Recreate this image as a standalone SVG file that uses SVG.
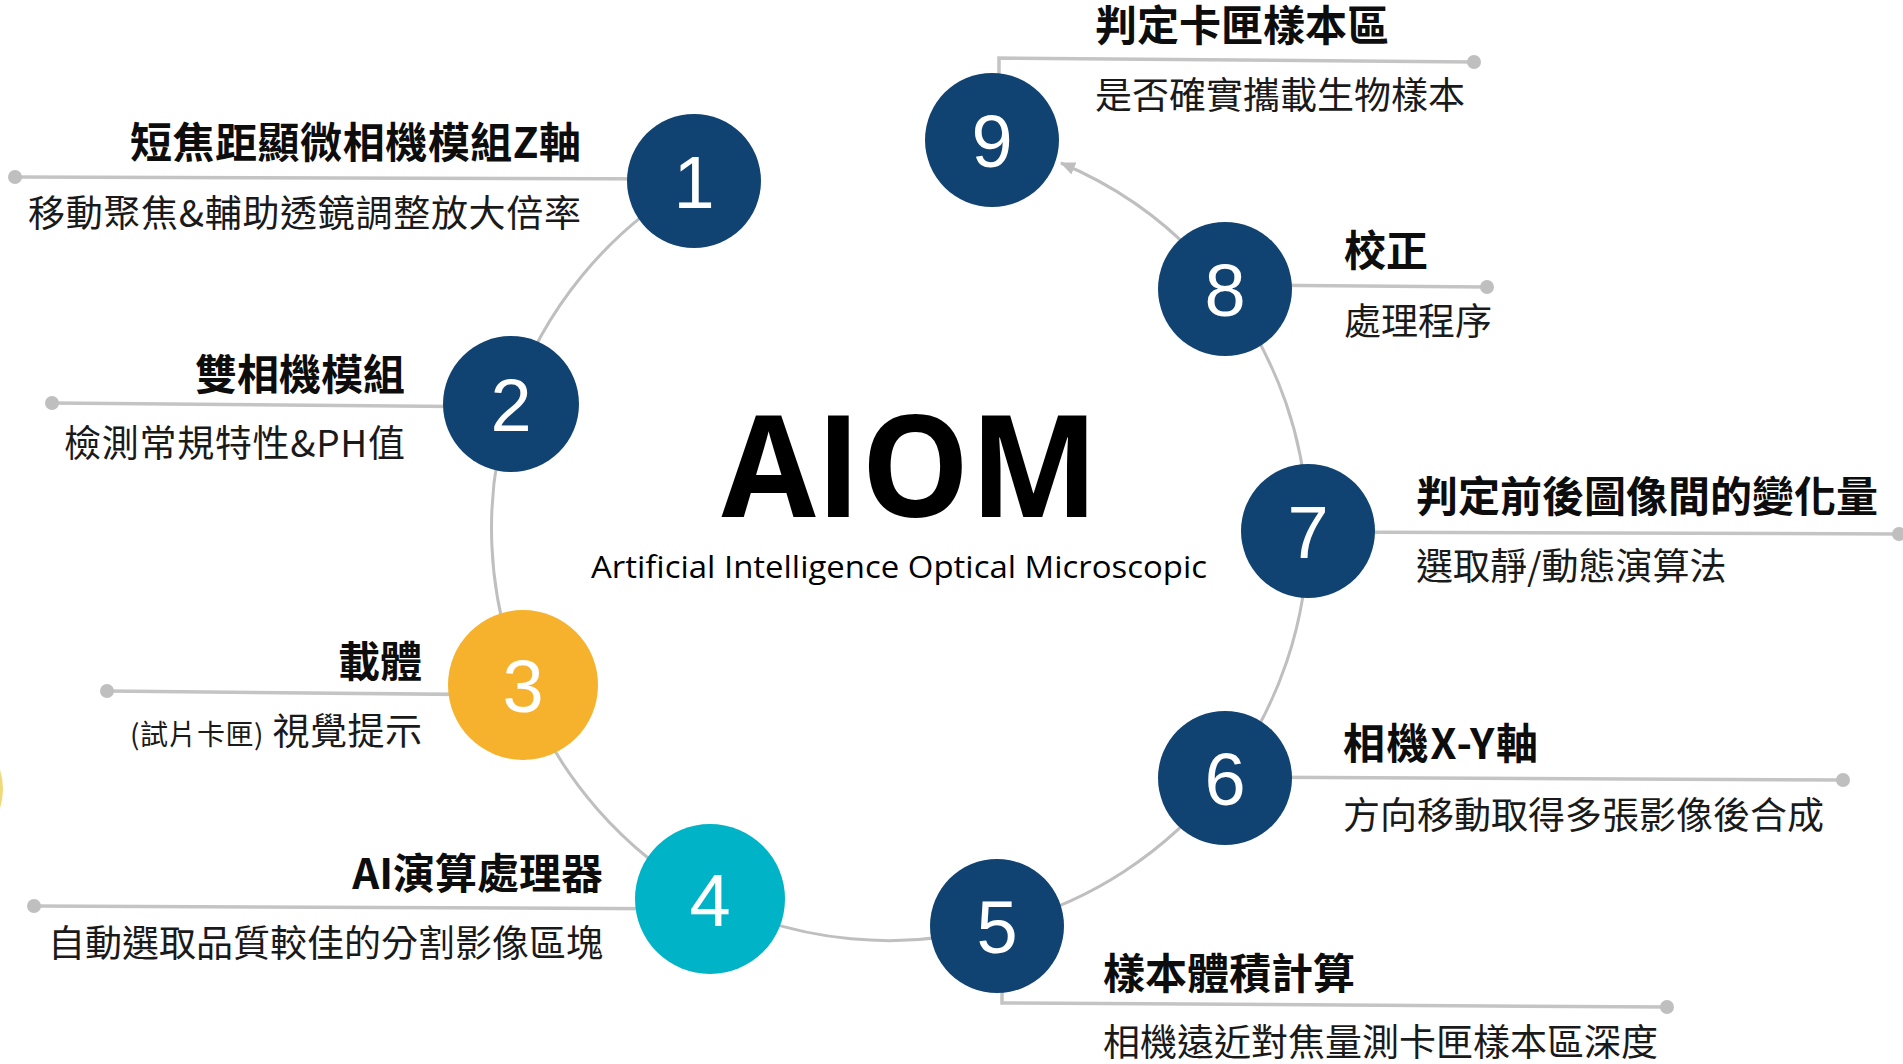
<svg xmlns="http://www.w3.org/2000/svg" width="1903" height="1064" viewBox="0 0 1903 1064">
  <defs>
    <style>
      .bg { fill: #ffffff; }
      .arc { fill: none; stroke: #bfbfbf; stroke-width: 3; }
      .lead { fill: none; stroke: #c4c4c4; stroke-width: 3.5; }
      .dot { fill: #bfbfbf; }
      .blue { fill: #114372; }
      .orange { fill: #f6b22c; }
      .teal { fill: #01b3c7; }
      .num { fill: #ffffff; font-family: "Liberation Sans", Arial, sans-serif; font-size: 74px; text-anchor: middle; }
      .title { fill: #0d0d0d; font-family: "Noto Sans CJK TC", "Noto Sans CJK SC", sans-serif; font-size: 42px; font-weight: 700; }
      .sub { fill: #1a1a1a; font-family: "Noto Sans CJK TC", "Noto Sans CJK SC", sans-serif; font-size: 37px; font-weight: 400; }
      .end { text-anchor: end; }
      .center-title { fill: #000000; font-family: "Open Sans", "Liberation Sans", sans-serif; font-weight: 700; font-size: 141px; text-anchor: middle; }
      .center-sub { fill: #000000; font-family: "Open Sans", "Liberation Sans", sans-serif; font-size: 31px; text-anchor: middle; }
    </style>
    <marker id="arrow" markerUnits="userSpaceOnUse" markerWidth="16" markerHeight="14" refX="14" refY="6.5" orient="auto">
      <path d="M0,0 L15,6.5 L0,13 Z" fill="#bfbfbf"/>
    </marker>
  </defs>

  <rect class="bg" x="0" y="0" width="1903" height="1064"/>

  <!-- partial yellow shape at the left edge -->
  <circle cx="-62" cy="789" r="65" fill="#ecd263" opacity="0.85"/>

  <g id="connectors">
    <path class="arc" d="M694,181 A406,406 0 0 0 511,404"/>
    <path class="arc" d="M511,404 A406,406 0 0 0 523,685"/>
    <path class="arc" d="M523,685 A406,406 0 0 0 710,899"/>
    <path class="arc" d="M710,899 A406,406 0 0 0 997,926"/>
    <path class="arc" d="M997,926 A406,406 0 0 0 1225,778"/>
    <path class="arc" d="M1225,778 A406,406 0 0 0 1308,531"/>
    <path class="arc" d="M1308,531 A406,406 0 0 0 1225,289"/>
    <path class="arc" d="M1225,289 A406,406 0 0 0 1061,163" marker-end="url(#arrow)"/>
  </g>

  <g id="center">
    <text class="center-title" x="910" y="517" textLength="377" lengthAdjust="spacingAndGlyphs">AIOM</text>
    <text class="center-sub" x="899" y="578" textLength="616" lengthAdjust="spacingAndGlyphs">Artificial Intelligence Optical Microscopic</text>
  </g>

  <g id="node1">
    <path class="lead" d="M15,177 L694,179"/>
    <circle class="dot" cx="15" cy="177" r="7"/>
    <circle class="blue" cx="694" cy="181" r="67"/>
    <text class="num" x="694" y="208">1</text>
    <text class="title end" x="581" y="158" textLength="451">短焦距顯微相機模組Z軸</text>
    <text class="sub end" x="581" y="227" textLength="553">移動聚焦&amp;輔助透鏡調整放大倍率</text>
  </g>

  <g id="node2">
    <path class="lead" d="M52,403 L511,407"/>
    <circle class="dot" cx="52" cy="403" r="7"/>
    <circle class="blue" cx="511" cy="404" r="68"/>
    <text class="num" x="511" y="431">2</text>
    <text class="title end" x="405" y="390">雙相機模組</text>
    <text class="sub end" x="405" y="457" textLength="341">檢測常規特性&amp;PH值</text>
  </g>

  <g id="node3">
    <path class="lead" d="M107,691 L523,695"/>
    <circle class="dot" cx="107" cy="691" r="7"/>
    <circle class="orange" cx="523" cy="685" r="75"/>
    <text class="num" x="523" y="712">3</text>
    <text class="title end" x="422" y="677">載體</text>
    <text class="sub end" x="422" y="745" textLength="292"><tspan font-size="28">(試片卡匣)</tspan> 視覺提示</text>
  </g>

  <g id="node4">
    <path class="lead" d="M34,906 L710,909"/>
    <circle class="dot" cx="34" cy="906" r="7"/>
    <circle class="teal" cx="710" cy="899" r="75"/>
    <text class="num" x="710" y="926">4</text>
    <text class="title end" x="603" y="889">AI演算處理器</text>
    <text class="sub end" x="603" y="957">自動選取品質較佳的分割影像區塊</text>
  </g>

  <g id="node5">
    <path class="lead" d="M1002,926 V1003 L1667,1007"/>
    <circle class="dot" cx="1667" cy="1007" r="7"/>
    <circle class="blue" cx="997" cy="926" r="67"/>
    <text class="num" x="997" y="953">5</text>
    <text class="title" x="1103" y="989">樣本體積計算</text>
    <text class="sub" x="1103" y="1056">相機遠近對焦量測卡匣樣本區深度</text>
  </g>

  <g id="node6">
    <path class="lead" d="M1225,777 L1843,780"/>
    <circle class="dot" cx="1843" cy="780" r="7"/>
    <circle class="blue" cx="1225" cy="778" r="67"/>
    <text class="num" x="1225" y="805">6</text>
    <text class="title" x="1343" y="759" textLength="195">相機X-Y軸</text>
    <text class="sub" x="1343" y="829">方向移動取得多張影像後合成</text>
  </g>

  <g id="node7">
    <path class="lead" d="M1308,532 L1899,534"/>
    <circle class="dot" cx="1899" cy="534" r="7"/>
    <circle class="blue" cx="1308" cy="531" r="67"/>
    <text class="num" x="1308" y="558">7</text>
    <text class="title" x="1416" y="512">判定前後圖像間的變化量</text>
    <text class="sub" x="1416" y="580">選取靜/動態演算法</text>
  </g>

  <g id="node8">
    <path class="lead" d="M1225,285 L1487,287"/>
    <circle class="dot" cx="1487" cy="287" r="7"/>
    <circle class="blue" cx="1225" cy="289" r="67"/>
    <text class="num" x="1225" y="316">8</text>
    <text class="title" x="1344" y="266">校正</text>
    <text class="sub" x="1344" y="335">處理程序</text>
  </g>

  <g id="node9">
    <path class="lead" d="M999,140 V58 L1474,62"/>
    <circle class="dot" cx="1474" cy="62" r="7"/>
    <circle class="blue" cx="992" cy="140" r="67"/>
    <text class="num" x="992" y="167">9</text>
    <text class="title" x="1095" y="41">判定卡匣樣本區</text>
    <text class="sub" x="1095" y="109">是否確實攜載生物樣本</text>
  </g>
</svg>
